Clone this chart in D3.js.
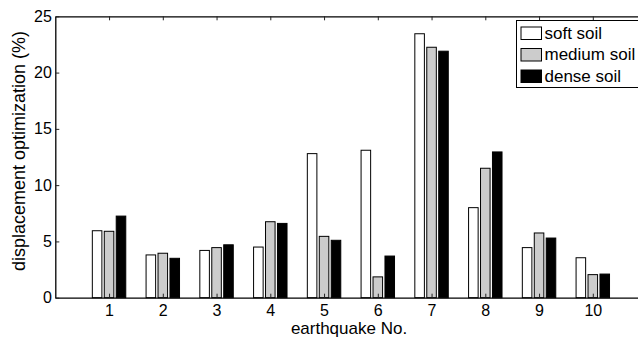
<!DOCTYPE html>
<html>
<head>
<meta charset="utf-8">
<script src="https://cdn.jsdelivr.net/npm/d3@7"></script>
<style>
  body { margin: 0; background: #fff; }
  svg { display: block; font-family: "Liberation Sans", Arial, sans-serif; }
</style>
</head>
<body>
<div id="chart_div"></div>
<script>
// Data
const quakes = [1, 2, 3, 4, 5, 6, 7, 8, 9, 10];
const seriesNames = ["soft soil", "medium soil", "dense soil"];
const softSoil   = [5.95, 3.8, 4.2, 4.5, 12.8, 13.1, 23.45, 8.0, 4.45, 3.55];
const mediumSoil = [5.9, 3.95, 4.45, 6.75, 5.45, 1.85, 22.25, 11.5, 5.75, 2.05];
const denseSoil  = [7.25, 3.5, 4.7, 6.6, 5.1, 3.7, 21.9, 12.95, 5.3, 2.1];
const yTicks = [0, 5, 10, 15, 20, 25];

const fills = ["#ffffff", "#cccccc", "#000000"];
const series = [softSoil, mediumSoil, denseSoil];

const width = 638, height = 340;
// plot box (the right side runs past the picture edge, as in the reference)
const plotLeft = 55.3, plotTop = 16.3, plotBottom = 297.7;
const unit = 53.75; // px per category

const x = d3.scaleLinear().domain([0, 11]).range([plotLeft, plotLeft + 11 * unit]);
const y = d3.scaleLinear().domain([0, 25]).range([plotBottom, plotTop]);

const svg = d3.select("#chart_div").append("svg")
  .attr("width", width)
  .attr("height", height);

// grouped bars, MATLAB style: group width 2/3, bar width 0.8 of slot
const slot = (2 / 3) / 3;
const barW = slot * 0.8;

const gBars = svg.append("g");
series.forEach((vals, s) => {
  gBars.selectAll(null)
    .data(quakes)
    .enter().append("rect")
    .attr("x", d => x(d + (s - 1) * slot - barW / 2))
    .attr("y", (d, i) => y(vals[i]))
    .attr("width", x(barW) - x(0))
    .attr("height", (d, i) => y(0) - y(vals[i]))
    .attr("fill", fills[s])
    .attr("stroke", "#000")
    .attr("stroke-width", 1);
});

// axes
const xAxis = d3.axisBottom(x).tickValues(quakes).tickSizeInner(-4).tickSizeOuter(0).tickPadding(6.5);
const xTop = d3.axisTop(x).tickValues(quakes).tickSizeInner(-4).tickSizeOuter(0).tickFormat("");
const yAxis = d3.axisLeft(y).tickValues(yTicks).tickSizeInner(-4).tickSizeOuter(0).tickPadding(3.5);

const gx = svg.append("g").attr("transform", `translate(0,${plotBottom})`).call(xAxis);
const gt = svg.append("g").attr("transform", `translate(0,${plotTop})`).call(xTop);
const gy = svg.append("g").attr("transform", `translate(${plotLeft},0)`).call(yAxis);

[gx, gt, gy].forEach(g => {
  g.select(".domain").attr("stroke", "#000").attr("stroke-width", 1.3);
  g.selectAll(".tick line").attr("stroke", "#222");
  g.selectAll("text").attr("font-size", 16).attr("fill", "#000")
    .attr("font-family", "Liberation Sans, Arial, sans-serif");
});
gx.selectAll("text").attr("dy", "0.71em");

// axis titles
svg.append("text")
  .attr("x", 349).attr("y", 333.5)
  .attr("text-anchor", "middle")
  .attr("font-size", 17)
  .text("earthquake No.");

svg.append("text")
  .attr("transform", "translate(25,151) rotate(-90)")
  .attr("text-anchor", "middle")
  .attr("font-size", 18)
  .text("displacement optimization (%)");

// legend
const legend = svg.append("g").attr("transform", "translate(516.5,20.5)");
legend.append("rect")
  .attr("width", 140).attr("height", 67)
  .attr("fill", "#fff").attr("stroke", "#000").attr("stroke-width", 1);

seriesNames.forEach((name, i) => {
  const row = legend.append("g").attr("transform", `translate(0,${12.5 + i * 21.5})`);
  row.append("rect")
    .attr("x", 4.5).attr("y", -6)
    .attr("width", 20.5).attr("height", 12.5)
    .attr("fill", fills[i]).attr("stroke", "#000");
  row.append("text")
    .attr("x", 28).attr("dy", "0.35em")
    .attr("font-size", 17)
    .text(name);
});
</script>
</body>
</html>
